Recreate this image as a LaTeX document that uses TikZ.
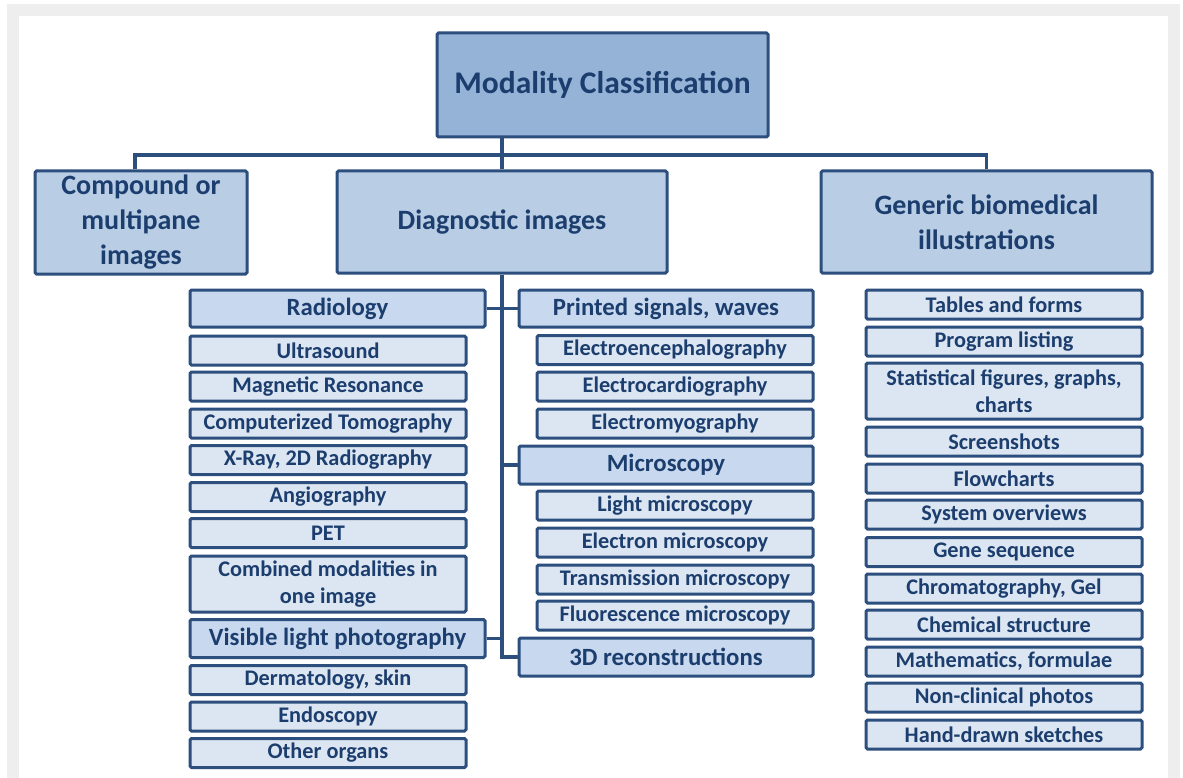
\documentclass[tikz,border=0pt]{standalone}
\usepackage{fontspec}
\setmainfont{Carlito}
\definecolor{bordc}{RGB}{44,79,126}
\definecolor{txtc}{RGB}{28,62,110}
\definecolor{fillA}{RGB}{149,179,215}
\definecolor{fillB}{RGB}{185,205,229}
\definecolor{fillC}{RGB}{200,217,239}
\definecolor{fillD}{RGB}{220,230,242}
\definecolor{frameg}{RGB}{238,238,238}
\tikzset{
  base/.style={draw=bordc, line width=3pt, rounded corners=1.5pt, text=txtc, font=\bfseries, align=center, inner sep=0pt},
  lvlA/.style={base, fill=fillA, font=\bfseries\fontsize{31.5}{35}\selectfont},
  lvlB/.style={base, fill=fillB, font=\bfseries\fontsize{28}{35}\selectfont},
  hdr/.style={base, fill=fillC, font=\bfseries\fontsize{24.8}{28}\selectfont},
  leaf/.style={base, fill=fillD, font=\bfseries\fontsize{22.3}{27.5}\selectfont},
  lw/.style={minimum width=295pt},
  mw/.style={minimum width=294pt},
  lf/.style={minimum width=276pt, minimum height=29pt},
  conn/.style={draw=bordc, line width=3.2pt},
}
\begin{document}
\begin{tikzpicture}[x=1pt,y=-1pt]
\useasboundingbox (0,0) rectangle (1183,778);
\fill[frameg] (7,4) rectangle (1180,778);
\fill[white] (19,16) rectangle (1168,778);

% level 1 and 2
\node[lvlA, minimum width=331pt, minimum height=104pt] (top) at (602.5,85) {Modality Classification};
\node[lvlB, minimum width=212pt, minimum height=103pt] (comp) at (141,222.5) {Compound or\\multipane\\images};
\node[lvlB, minimum width=330pt, minimum height=102pt] (diag) at (502,222) {Diagnostic images};
\node[lvlB, minimum width=331pt, minimum height=102pt] (gen) at (986.5,222) {Generic biomedical\\illustrations};

% left column
\node[hdr, lw, minimum height=37pt] (rad) at (337.5,308.5) {Radiology};
\node[leaf, lf] (us) at (328,350.5) {Ultrasound};
\node[leaf, lf] (mr) at (328,386.5) {Magnetic Resonance};
\node[leaf, lf] (ct) at (328,423.5) {Computerized Tomography};
\node[leaf, lf] (xr) at (328,460) {X-Ray, 2D Radiography};
\node[leaf, lf] (ang) at (328,497) {Angiography};
\node[leaf, lf] (pet) at (328,533) {PET};
\node[leaf, lf, minimum height=56pt] (comb) at (328,584) {Combined modalities in\\one image};
\node[hdr, lw, minimum height=38pt] (vis) at (337.5,638.5) {Visible light photography};
\node[leaf, lf] (derm) at (328,680) {Dermatology, skin};
\node[leaf, lf] (endo) at (328,716.5) {Endoscopy};
\node[leaf, lf] (oth) at (328,753) {Other organs};

% middle column
\node[hdr, mw, minimum height=37pt] (prs) at (666,308.5) {Printed signals, waves};
\node[leaf, lf] (eeg) at (675,350) {Electroencephalography};
\node[leaf, lf] (ecg) at (675,386.5) {Electrocardiography};
\node[leaf, lf] (emg) at (675,423.5) {Electromyography};
\node[hdr, mw, minimum height=38pt] (mic) at (666,465) {Microscopy};
\node[leaf, lf] (lm) at (675,505.5) {Light microscopy};
\node[leaf, lf] (elm) at (675,542.5) {Electron microscopy};
\node[leaf, lf] (tm) at (675,579.5) {Transmission microscopy};
\node[leaf, lf] (fm) at (675,615.5) {Fluorescence microscopy};
\node[hdr, mw, minimum height=38pt] (rec) at (666,657) {3D reconstructions};

% right column
\node[leaf, lf] (tab) at (1004,304.5) {Tables and forms};
\node[leaf, lf] (prog) at (1004,341.5) {Program listing};
\node[leaf, lf, minimum height=56pt] (stat) at (1004,391) {Statistical figures, graphs,\\charts};
\node[leaf, lf] (scr) at (1004,441.5) {Screenshots};
\node[leaf, lf] (flow) at (1004,478.5) {Flowcharts};
\node[leaf, lf] (sys) at (1004,514.5) {System overviews};
\node[leaf, lf] (gene) at (1004,552) {Gene sequence};
\node[leaf, lf] (chrom) at (1004,588.5) {Chromatography, Gel};
\node[leaf, lf] (chem) at (1004,624.5) {Chemical structure};
\node[leaf, lf] (math) at (1004,661.5) {Mathematics, formulae};
\node[leaf, lf] (nonc) at (1004,697.5) {Non-clinical photos};
\node[leaf, lf] (hand) at (1004,734.5) {Hand-drawn sketches};

% connectors
\coordinate (busL) at (135,155);
\draw[conn] (comp.north -| busL) -- (busL) -- (busL -| gen.north) -- (gen.north);
\draw[conn] (top.south -| diag.north) -- (diag.north);
\draw[conn] (diag.south) |- (rec.west);
\draw[conn] (rad.east) -- (rad.east -| diag.south) -- (prs.west);
\draw[conn] (mic.west) -- (mic.west -| diag.south);
\draw[conn] (vis.east) -- (vis.east -| diag.south);
\end{tikzpicture}
\end{document}
